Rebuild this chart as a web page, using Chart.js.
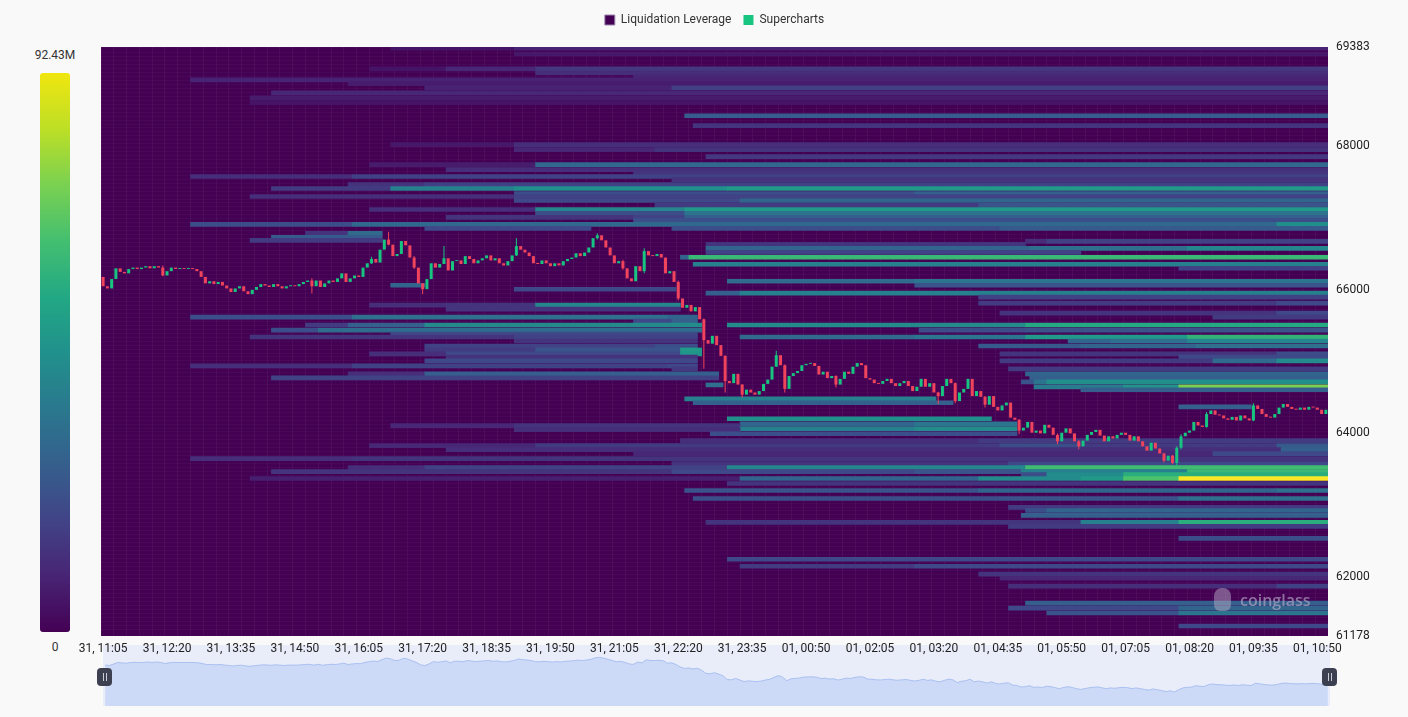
<!DOCTYPE html>
<html>
<head>
<meta charset="utf-8">
<script src="https://cdn.jsdelivr.net/npm/chart.js@4.4.1/dist/chart.umd.min.js"></script>
<style>
  html, body { margin: 0; padding: 0; background: #f9f9f9; }
  #wrap { position: relative; width: 1408px; height: 717px; overflow: hidden; font-family: Roboto, "Noto Sans", sans-serif; }
  #main { position: absolute; left: 0; top: 0; z-index: 2; }
  #zoomBox { position: absolute; left: 103px; top: 645px; width: 1227px; height: 61px; background: #e9edf9; z-index: 1; }
  #scaleBar { position: absolute; left: 40px; top: 73px; width: 30px; height: 559px; border-radius: 3px;
    background: linear-gradient(to top, #440154, #482475, #414487, #355f8d, #2a788e, #21918c, #22a884, #44bf70, #7ad151, #bddf26, #f0e60f); }
  .scaleLbl { position: absolute; left: 20px; width: 70px; text-align: center; font-size: 12px; color: #333; }
  .handle { position: absolute; top: 668px; width: 15px; height: 18px; background: #3c4050; border-radius: 4px; z-index: 3; }
  .handle::before, .handle::after { content: ''; position: absolute; top: 5px; width: 1px; height: 8px; background: #c9cdd8; }
  .handle::before { left: 6px; }
  .handle::after { left: 9px; }
  #mark { position: absolute; left: 1240px; top: 589px; font-size: 16px; font-weight: 600; color: rgba(180, 172, 196, 0.65); z-index: 3; font-family: "Open Sans", sans-serif; }
  #markIcon { position: absolute; left: 1214px; top: 588px; width: 17px; height: 23px; border-radius: 8px 8px 6px 6px; background: rgba(180, 172, 196, 0.5); z-index: 3; }
</style>
</head>
<body>
<div id="wrap">
  <div class="scaleLbl" style="top:48px">92.43M</div>
  <div id="scaleBar"></div>
  <div class="scaleLbl" style="top:640px">0</div>
  <div id="zoomBox"><canvas id="zoomChart" width="1227" height="61"></canvas></div>
  <canvas id="main" width="1408" height="717"></canvas>
  <div class="handle" style="left:97px"></div>
  <div class="handle" style="left:1322px"></div>
  <div id="markIcon"></div>
  <div id="mark">coinglass</div>
</div>
<script>
const TIME_LABELS = ['31, 11:05', '31, 12:20', '31, 13:35', '31, 14:50', '31, 16:05', '31, 17:20', '31, 18:35',
  '31, 19:50', '31, 21:05', '31, 22:20', '31, 23:35', '01, 00:50', '01, 02:05', '01, 03:20', '01, 04:35',
  '01, 05:50', '01, 07:05', '01, 08:20', '01, 09:35', '01, 10:50'];
const Y_TICKS = [61178, 62000, 64000, 66000, 68000, 69383];
const PRICE_MIN = 61178;
const PRICE_MAX = 69383;
const HEAT_MAX = 92.43; // M

// 5 minute candles, close prices
const FIRST_OPEN = 66180;
const CLOSES = [
  66050, 66020, 66150, 66300, 66250, 66230, 66290, 66310, 66290, 66310,
  66330, 66300, 66330, 66310, 66200, 66260, 66310, 66290, 66300, 66290,
  66300, 66290, 66260, 66180, 66090, 66120, 66080, 66110, 66060, 66020,
  65970, 66020, 66050, 65980, 65940, 66000, 66040, 66080, 66060, 66040,
  66080, 66050, 66020, 66050, 66060, 66050, 66080, 66110, 66130, 66050,
  66130, 66040, 66090, 66130, 66110, 66160, 66230, 66110, 66160, 66200,
  66180, 66310, 66370, 66430, 66380, 66560, 66700, 66630, 66470, 66500,
  66680, 66620, 66450, 66310, 66090, 66010, 66150, 66370, 66310, 66360,
  66440, 66270, 66400, 66410, 66360, 66470, 66430, 66370, 66410, 66440,
  66480, 66410, 66440, 66370, 66340, 66400, 66480, 66610, 66560, 66520,
  66470, 66370, 66360, 66410, 66370, 66330, 66370, 66340, 66400, 66430,
  66450, 66510, 66470, 66520, 66590, 66720, 66760, 66690, 66590, 66480,
  66370, 66400, 66300, 66160, 66120, 66330, 66260, 66540, 66480, 66470,
  66500, 66450, 66230, 66260, 66110, 65880, 65750, 65790, 65700, 65760,
  65590, 65300, 65250, 65360, 65230, 65080, 64730, 64700, 64830, 64680,
  64540, 64610, 64570, 64540, 64590, 64690, 64750, 64930, 65090, 64950,
  64620, 64800, 64840, 64870, 64950, 64970, 64980, 64940, 64820, 64860,
  64770, 64800, 64680, 64760, 64860, 64830, 64930, 64980, 64950, 64770,
  64750, 64700, 64690, 64730, 64760, 64700, 64660, 64700, 64730, 64660,
  64590, 64650, 64760, 64650, 64700, 64570, 64520, 64660, 64760, 64700,
  64450, 64570, 64620, 64760, 64520, 64590, 64510, 64400, 64520, 64370,
  64320, 64390, 64430, 64220, 64190, 64040, 64080, 64160, 64010, 64040,
  64000, 64120, 64080, 63980, 63890, 64010, 64070, 64000, 63890, 63820,
  63900, 63980, 64020, 64050, 63970, 63890, 63960, 63930, 63980, 64010,
  63980, 63900, 63960, 63890, 63820, 63760, 63870, 63790, 63720, 63620,
  63690, 63590, 63800, 63960, 64010, 64040, 64160, 64110, 64090, 64270,
  64320, 64260, 64250, 64210, 64190, 64230, 64180, 64250, 64210, 64180,
  64390, 64340, 64270, 64230, 64220, 64270, 64360, 64410, 64370, 64340,
  64330, 64360, 64330, 64370, 64360, 64330, 64270, 64330
];

// visible wicks: [candle, low, high]
const WICKS = [
  [14, 66190, 66340], [49, 65950, 66160], [63, 66360, 66460], [67, 66620, 66810], [73, 66290, 66470],
  [75, 65940, 66090], [80, 66360, 66610], [97, 66470, 66720], [116, 66700, 66790], [122, 66280, 66420],
  [127, 66230, 66580], [135, 65850, 66130], [141, 64900, 65600], [146, 64570, 65090], [150, 64500, 64690],
  [158, 64930, 65150], [160, 64570, 64960], [172, 64640, 64810], [196, 64410, 64580], [200, 64420, 64710],
  [207, 64360, 64520], [215, 63990, 64200], [224, 63850, 64000], [229, 63780, 63910], [249, 63600, 63730],
  [251, 63570, 63700], [252, 63550, 63820], [253, 63780, 63990], [259, 64080, 64300], [270, 64170, 64420]
];

// liquidation levels: [price, from candle, to candle, amount in M]
const BANDS = [
  [69340, 68, 97, 5], [69340, 97, 288, 9], [69258, 97, 288, 6],
  [69050, 63, 81, 5], [69050, 81, 102, 10], [69050, 102, 288, 15],
  [68993, 102, 288, 12], [68940, 125, 288, 10], [68897, 21, 288, 9], [68845, 58, 288, 7],
  [68786, 76, 134, 9], [68786, 134, 288, 17], [68716, 40, 288, 10], [68647, 35, 288, 7], [68578, 35, 288, 5],
  [68397, 137, 288, 27], [68260, 139, 288, 14],
  [67995, 68, 97, 6], [67995, 97, 288, 12], [67925, 97, 130, 10], [67925, 130, 288, 14], [67828, 142, 288, 15],
  [67717, 63, 102, 7], [67717, 102, 288, 31], [67648, 81, 288, 12], [67606, 125, 288, 14],
  [67551, 21, 59, 12], [67551, 59, 288, 18], [67508, 134, 288, 14],
  [67439, 58, 76, 14], [67439, 76, 288, 18],
  [67384, 40, 68, 16], [67384, 68, 97, 40], [67384, 97, 147, 46], [67384, 147, 288, 50],
  [67314, 97, 191, 22], [67314, 191, 288, 28], [67273, 35, 97, 12], [67273, 97, 288, 18],
  [67217, 97, 150, 20], [67217, 150, 288, 30], [67148, 130, 206, 16], [67148, 206, 288, 24],
  [67092, 63, 102, 12], [67092, 102, 137, 42], [67092, 137, 288, 50],
  [67037, 102, 137, 22], [67037, 137, 288, 35],
  [66981, 81, 125, 14], [66981, 125, 137, 18], [66981, 137, 288, 28], [66940, 125, 288, 22],
  [66884, 21, 59, 22], [66884, 59, 276, 31], [66884, 276, 288, 45],
  [66828, 76, 115, 20], [66828, 134, 211, 22], [66828, 211, 288, 26],
  [66759, 48, 58, 14], [66759, 58, 66, 32], [66703, 40, 66, 26], [66662, 35, 66, 16],
  [66648, 217, 222, 12], [66648, 222, 288, 18], [66606, 142, 217, 14],
  [66551, 142, 218, 30], [66551, 218, 255, 34], [66551, 255, 288, 42], [66495, 142, 230, 18],
  [66426, 136, 138, 30], [66426, 138, 288, 62], [66329, 139, 288, 40], [66273, 253, 288, 18],
  [66092, 147, 191, 32], [66092, 191, 288, 36], [66036, 191, 288, 24], [66036, 68, 76, 30],
  [65981, 97, 135, 20], [65926, 142, 150, 28], [65926, 150, 288, 40], [65870, 206, 288, 18],
  [65787, 206, 276, 16], [65787, 276, 288, 20],
  [65759, 63, 81, 12], [65759, 81, 102, 14], [65759, 102, 136, 42], [65704, 81, 136, 14],
  [65648, 211, 276, 14], [65648, 276, 288, 20],
  [65593, 21, 59, 22], [65593, 59, 133, 34], [65593, 133, 140, 30], [65593, 261, 288, 16],
  [65537, 125, 134, 20], [65537, 134, 140, 28],
  [65482, 48, 58, 16], [65482, 58, 76, 28], [65482, 76, 141, 44], [65482, 147, 217, 44], [65482, 217, 288, 56],
  [65412, 40, 51, 22], [65412, 51, 141, 33], [65412, 192, 217, 22], [65412, 217, 288, 24],
  [65357, 68, 140, 20],
  [65315, 35, 97, 14], [65315, 97, 140, 18], [65315, 150, 191, 32], [65315, 191, 217, 36],
  [65315, 217, 255, 50], [65315, 255, 288, 60],
  [65260, 97, 140, 14], [65260, 227, 237, 30], [65260, 237, 255, 34], [65260, 255, 288, 42],
  [65190, 76, 130, 18], [65190, 130, 140, 22], [65190, 206, 230, 26], [65190, 230, 257, 30], [65190, 257, 288, 34],
  [65135, 76, 102, 16], [65135, 102, 136, 24], [65135, 136, 141, 50],
  [65080, 63, 81, 12], [65080, 81, 136, 20], [65080, 136, 141, 48], [65080, 211, 276, 14], [65080, 276, 288, 22],
  [65037, 81, 140, 14], [65037, 253, 288, 20],
  [64982, 76, 140, 20], [64982, 211, 261, 16], [64982, 261, 276, 32], [64982, 276, 288, 44],
  [64912, 21, 59, 12], [64912, 59, 133, 18], [64912, 133, 140, 20],
  [64871, 134, 140, 16], [64871, 213, 288, 16],
  [64801, 58, 76, 12], [64801, 76, 145, 28], [64801, 217, 288, 30],
  [64746, 40, 145, 18], [64746, 218, 288, 28],
  [64690, 216, 219, 24], [64690, 219, 222, 35], [64690, 222, 288, 46], [64648, 142, 146, 34],
  [64621, 219, 240, 38], [64621, 240, 253, 48], [64621, 253, 288, 74], [64580, 230, 288, 28],
  [64454, 137, 196, 40], [64399, 139, 200, 28], [64343, 253, 270, 28],
  [64177, 147, 209, 46], [64107, 150, 191, 30], [64107, 191, 215, 36],
  [64080, 68, 97, 10], [64080, 97, 150, 14], [64038, 150, 191, 40], [64038, 191, 215, 44],
  [64024, 97, 150, 12], [63968, 143, 215, 22],
  [63871, 136, 206, 12], [63871, 206, 288, 16],
  [63802, 63, 102, 10], [63802, 102, 211, 16], [63802, 211, 230, 22], [63802, 230, 276, 16], [63802, 276, 288, 26],
  [63746, 81, 277, 12], [63746, 277, 288, 28], [63691, 125, 261, 10], [63691, 261, 288, 20],
  [63621, 21, 59, 12], [63621, 59, 288, 14], [63552, 134, 213, 14], [63552, 213, 288, 20],
  [63497, 58, 76, 12], [63497, 76, 147, 18], [63497, 147, 217, 42], [63497, 217, 288, 64],
  [63441, 40, 134, 14], [63441, 134, 191, 20], [63441, 191, 216, 24], [63441, 216, 255, 40], [63441, 255, 288, 62],
  [63399, 216, 222, 22], [63399, 222, 240, 44], [63399, 240, 288, 58],
  [63344, 35, 150, 8], [63344, 150, 206, 30], [63344, 206, 230, 44], [63344, 230, 240, 50],
  [63344, 240, 253, 66], [63344, 253, 288, 92],
  [63274, 147, 288, 14],
  [63177, 137, 206, 24], [63177, 206, 276, 30], [63177, 276, 288, 34],
  [63066, 139, 211, 22], [63066, 211, 253, 24], [63066, 253, 288, 34],
  [62941, 213, 288, 16], [62899, 217, 222, 22], [62899, 222, 288, 30], [62830, 216, 288, 28],
  [62733, 142, 230, 14], [62733, 230, 253, 40], [62733, 253, 288, 58], [62677, 213, 288, 16],
  [62511, 253, 288, 22], [62219, 147, 288, 20], [62122, 150, 191, 16], [62122, 191, 288, 20],
  [62011, 206, 288, 14], [61955, 211, 288, 10], [61844, 213, 276, 12], [61844, 276, 288, 18],
  [61608, 217, 288, 28], [61539, 213, 253, 20], [61539, 253, 288, 30],
  [61470, 222, 253, 24], [61470, 253, 288, 36], [61290, 253, 288, 20]
];

const UP = '#17c480';
const DOWN = '#ef445b';
const VIRIDIS = ['#440154', '#482475', '#414487', '#355f8d', '#2a788e', '#21918c', '#22a884', '#44bf70', '#7ad151', '#bddf26', '#fde725'];

function hexRgb(h) {
  return [1, 3, 5].map(k => parseInt(h.slice(k, k + 2), 16));
}
function viridis(t) {
  t = Math.max(0, Math.min(1, t));
  const p = t * (VIRIDIS.length - 1);
  const i = Math.min(Math.floor(p), VIRIDIS.length - 2);
  const f = p - i;
  const a = hexRgb(VIRIDIS[i]), b = hexRgb(VIRIDIS[i + 1]);
  const c = a.map((v, k) => Math.round(v + (b[k] - v) * f));
  return 'rgb(' + c.join(',') + ')';
}

const OPENS = CLOSES.map((c, i) => i === 0 ? FIRST_OPEN : CLOSES[i - 1]);
const candleColor = i => CLOSES[i] >= OPENS[i] ? UP : DOWN;

const heatData = BANDS.map(b => ({ x: [b[1] - 0.5, b[2] - 0.5], y: b[0] }));
const heatColors = BANDS.map(b => viridis(b[3] / HEAT_MAX));
const bodyData = CLOSES.map((c, i) => ({ x: i, y: [OPENS[i], c] }));
const bodyColors = CLOSES.map((c, i) => candleColor(i));
const wickData = WICKS.map(w => ({ x: w[0], y: [w[1], w[2]] }));
const wickColors = WICKS.map(w => candleColor(w[0]));

Chart.defaults.font.family = 'Roboto, "Noto Sans", sans-serif';
Chart.defaults.font.size = 12;
Chart.defaults.color = '#333';

const plotBg = {
  id: 'plotBg',
  beforeDraw(chart) {
    const { ctx, chartArea: a } = chart;
    ctx.save();
    ctx.fillStyle = VIRIDIS[0];
    ctx.fillRect(a.left, a.top, a.width, a.height);
    ctx.restore();
  }
};

new Chart(document.getElementById('main'), {
  type: 'bar',
  data: {
    datasets: [
      {
        label: 'Liquidation Leverage',
        indexAxis: 'y',
        xAxisID: 'xh',
        yAxisID: 'yh',
        data: heatData,
        backgroundColor: heatColors,
        barThickness: 4,
        order: 3,
      },
      {
        label: 'Supercharts',
        data: bodyData,
        backgroundColor: bodyColors,
        grouped: false,
        maxBarThickness: 3,
        minBarLength: 1,
        order: 1,
      },
      {
        label: 'wick',
        data: wickData,
        backgroundColor: wickColors,
        grouped: false,
        maxBarThickness: 1,
        order: 2,
      },
    ],
  },
  options: {
    responsive: false,
    animation: false,
    layout: { padding: { left: 101, right: 0, top: 2, bottom: 0 } },
    plugins: {
      legend: {
        fullSize: false,
        labels: {
          boxWidth: 10,
          boxHeight: 10,
          padding: 12,
          generateLabels: () => [
            { text: 'Liquidation Leverage', fillStyle: VIRIDIS[0], strokeStyle: '#9c88ad', lineWidth: 1, hidden: false, datasetIndex: 0, fontColor: '#333' },
            { text: 'Supercharts', fillStyle: UP, strokeStyle: UP, lineWidth: 0, hidden: false, datasetIndex: 1, fontColor: '#333' },
          ],
        },
      },
      tooltip: { enabled: false },
    },
    scales: {
      x: {
        type: 'linear',
        position: 'bottom',
        min: -0.5,
        max: 287.5,
        offset: false,
        grid: { display: false, drawTicks: false },
        border: { display: false },
        afterBuildTicks: s => { s.ticks = TIME_LABELS.map((t, k) => ({ value: k * 15 })); },
        ticks: { autoSkip: false, maxRotation: 0, padding: 6, color: '#222', callback: (v, i) => TIME_LABELS[i] },
        afterFit: s => { s.height = 81; },
      },
      y: {
        type: 'linear',
        position: 'right',
        min: PRICE_MIN,
        max: PRICE_MAX,
        stacked: false,
        grid: { display: false, drawTicks: false },
        border: { display: false },
        afterBuildTicks: s => { s.ticks = Y_TICKS.map(v => ({ value: v })); },
        ticks: { padding: 8, color: '#222', callback: v => String(v) },
        afterFit: s => { s.width = 80; },
      },
      xh: {
        type: 'linear',
        position: 'top',
        min: -0.5,
        max: 287.5,
        offset: false,
        grid: { color: 'rgba(255,255,255,0.045)', drawTicks: false, offset: false },
        border: { display: false },
        ticks: { display: false, stepSize: 3 },
        afterFit: s => { s.height = 11; },
      },
      yh: {
        type: 'linear',
        position: 'left',
        min: PRICE_MIN,
        max: PRICE_MAX,
        stacked: false,
        offset: false,
        grid: { color: 'rgba(255,255,255,0.028)', drawTicks: false, offset: false },
        border: { display: false },
        ticks: { display: false, stepSize: 55 },
        afterFit: s => { s.width = 0; },
      },
    },
  },
  plugins: [plotBg],
});

// overview strip under the axis
new Chart(document.getElementById('zoomChart'), {
  type: 'line',
  data: {
    datasets: [{
      data: CLOSES.map((c, i) => ({ x: i, y: c })),
      borderColor: '#a9bff0',
      borderWidth: 1,
      backgroundColor: 'rgba(196,212,246,0.8)',
      fill: 'start',
      pointRadius: 0,
      tension: 0,
    }],
  },
  options: {
    responsive: false,
    animation: false,
    layout: { padding: 0 },
    plugins: { legend: { display: false }, tooltip: { enabled: false } },
    scales: {
      x: { type: 'linear', display: false, min: -0.5, max: 287.5 },
      y: { type: 'linear', display: false, min: 62300, max: 67900 },
    },
  },
});
</script>
</body>
</html>
